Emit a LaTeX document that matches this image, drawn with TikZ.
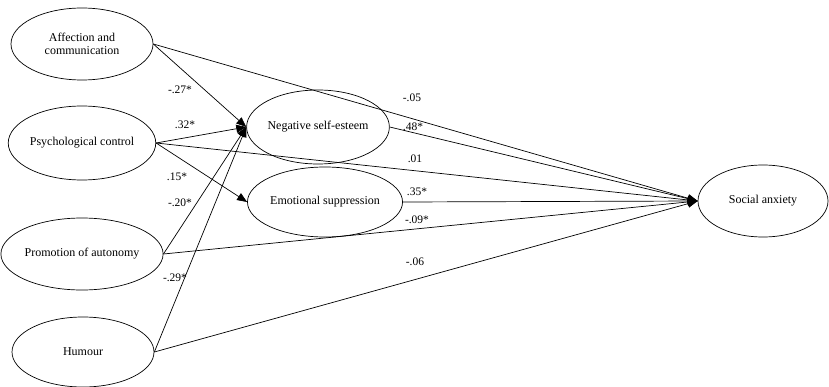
\documentclass[tikz,border=0pt]{standalone}
\usepackage{fontspec}
\setmainfont{Liberation Serif}
\usetikzlibrary{shapes.geometric}
\usetikzlibrary{arrows.meta}

\tikzset{
  latent/.style={ellipse, draw=black, line width=0.7pt, inner sep=0pt,
    align=center, font=\fontsize{12}{13}\selectfont},
  path/.style={line width=0.7pt, -{Triangle[length=10pt,width=8pt]}},
  coef/.style={font=\fontsize{11.5}{12}\selectfont, inner sep=1pt}
}

\begin{document}
\begin{tikzpicture}[x=1pt,y=1pt]
\useasboundingbox (0,0) rectangle (829,386);

% Predictors
\node[latent, minimum width=142, minimum height=72] (aff) at (82,342)
    {Affection and\\communication};
\node[latent, minimum width=142, minimum height=74] (psy) at (82,243)
    {Psychological control};
\node[latent, minimum width=142, minimum height=72] (aut) at (82,132)
    {Promotion of autonomy};
\node[latent, minimum width=142, minimum height=70] (hum) at (83,34)
    {Humour};

% Mediators and outcome
\node[latent, minimum width=142, minimum height=74] (nse) at (318,259)
    {Negative self-esteem};
\node[latent, minimum width=140, minimum height=70] (esu) at (325,184)
    {Emotional suppression};
\node[latent, minimum width=130, minimum height=72] (soc) at (763,185)
    {Social anxiety};

% Paths to the mediators
\draw[path] (aff.east) -- (nse.west);
\draw[path] (psy.east) -- (nse.west);
\draw[path] (aut.east) -- (nse.west);
\draw[path] (hum.east) -- (nse.west);
\draw[path] (psy.east) -- (esu.west);

% Paths to social anxiety
\draw[path] (aff.east) -- (soc.west);
\draw[path] (nse.east) -- (soc.west);
\draw[path] (psy.east) -- (soc.west);
\draw[path] (esu.east) -- (soc.west);
\draw[path] (aut.east) -- (soc.west);
\draw[path] (hum.east) -- (soc.west);

% Coefficients
\node[coef] (c1) at (180,296) {-.27*};
\node[coef] (c2) at (185,261) {.32*};
\node[coef] (c3) at (177,209) {.15*};
\node[coef] (c4) at (180,183) {-.20*};
\node[coef] (c5) at (175,108) {-.29*};
\node[coef] (c6) at (412,288) {-.05};
\node[coef] (c7) at (413,259) {.48*};
\node[coef] (c8) at (415,227) {.01};
\node[coef] (c9) at (417,194) {.35*};
\node[coef] (c10) at (417,166) {-.09*};
\node[coef] (c11) at (415,124) {-.06};
\end{tikzpicture}
\end{document}
